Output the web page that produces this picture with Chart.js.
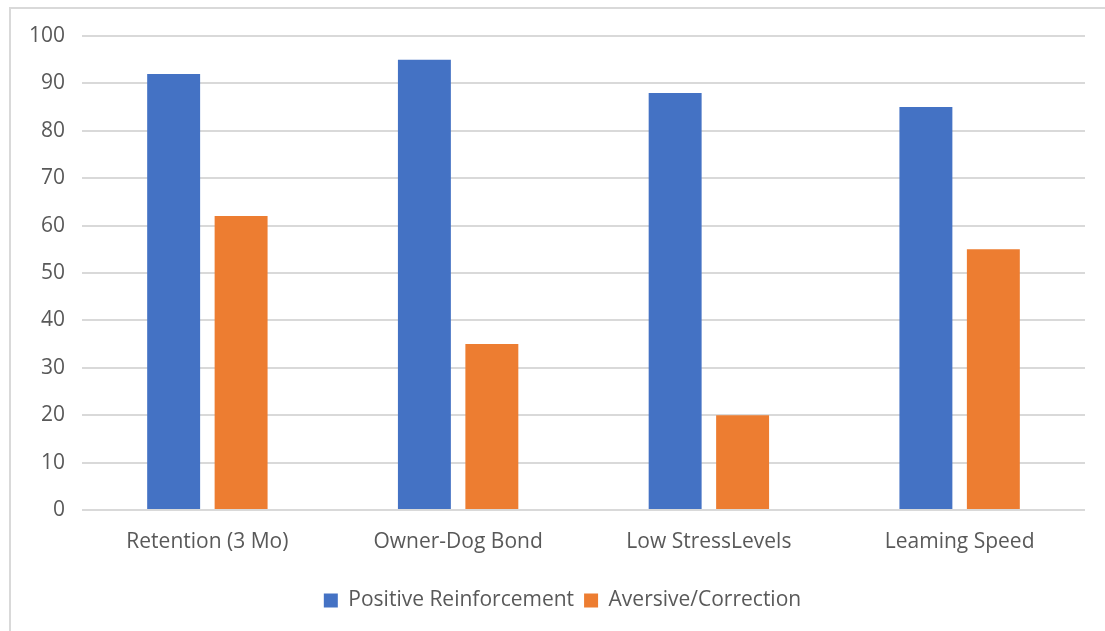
<!DOCTYPE html>
<html>
<head>
<meta charset="utf-8">
<script src="https://cdn.jsdelivr.net/npm/chart.js@4.4.1/dist/chart.umd.min.js"></script>
<style>
  html, body { margin: 0; padding: 0; background: #fff; }
  body { width: 1105px; height: 631px; position: relative; overflow: hidden; }
  #frame {
    position: absolute; left: 9px; top: 7px; width: 1200px; height: 700px;
    border-left: 2px solid #d9d9d9; border-top: 2px solid #d9d9d9; box-sizing: border-box;
  }
  #wrap { position: absolute; left: 0; top: 0; width: 1105px; height: 631px; }
</style>
</head>
<body>
<div id="frame"></div>
<div id="wrap"><canvas id="chart"></canvas></div>
<script>
// Training outcome scores by method
const categories = ["Retention (3 Mo)", "Owner-Dog Bond", "Low StressLevels", "Leaming Speed"];
const positiveReinforcement = [92, 95, 88, 85];
const aversiveCorrection = [62, 35, 20, 55];
const seriesNames = ["Positive Reinforcement", "Aversive/Correction"];
const yTicks = [0, 10, 20, 30, 40, 50, 60, 70, 80, 90, 100];

const textColor = "#595959";
const fontFamily = "'Open Sans', 'Liberation Sans', sans-serif";

// Nudge the legend so it sits centred under the whole frame rather than the canvas
const legendOffset = {
  id: "legendOffset",
  afterUpdate(chart) {
    const lg = chart.legend;
    if (!lg) return;
    lg.left += 20; lg.right += 20;
    lg.top += 2; lg.bottom += 2;
  }
};

new Chart(document.getElementById("chart"), {
  type: "bar",
  data: {
    labels: categories,
    datasets: [
      { label: seriesNames[0], data: positiveReinforcement, backgroundColor: "#4472C4" },
      { label: seriesNames[1], data: aversiveCorrection, backgroundColor: "#ED7D31" }
    ]
  },
  plugins: [legendOffset],
  options: {
    responsive: true,
    maintainAspectRatio: false,
    animation: false,
    datasets: { bar: { categoryPercentage: 0.538, barPercentage: 0.785 } },
    layout: { padding: { top: 36, right: 20, left: 0, bottom: 12 } },
    plugins: {
      tooltip: { enabled: false },
      legend: {
        position: "bottom",
        labels: {
          color: textColor,
          font: { family: fontFamily, size: 21 },
          boxWidth: 14, boxHeight: 14, padding: 10
        }
      }
    },
    scales: {
      x: {
        grid: { display: false, drawTicks: false },
        border: { display: false },
        ticks: { color: textColor, font: { family: fontFamily, size: 21 }, padding: 19 },
        afterFit: (s) => { s.height = 68; }
      },
      y: {
        min: 0, max: 100,
        afterBuildTicks: (s) => { s.ticks = yTicks.map(v => ({ value: v })); },
        grid: { color: "#d9d9d9", lineWidth: 2, drawTicks: false },
        border: { display: false },
        ticks: { color: textColor, font: { family: fontFamily, size: 21 }, padding: 17 },
        afterFit: (s) => { s.width = 82; }
      }
    }
  }
});
</script>
</body>
</html>
